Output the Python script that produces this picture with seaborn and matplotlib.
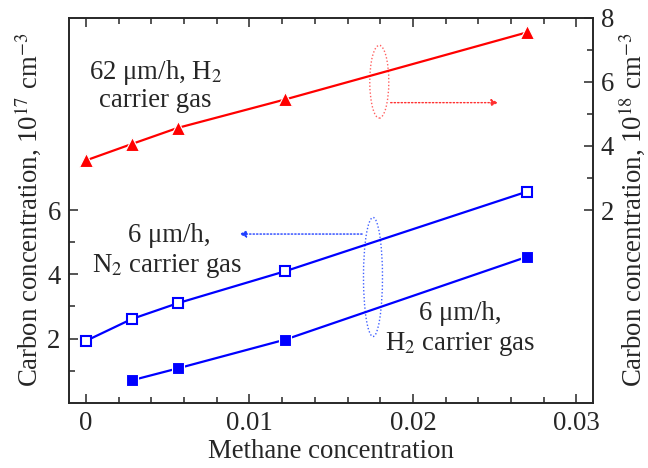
import numpy as np
import pandas as pd
import matplotlib
matplotlib.use("Agg")
import matplotlib.pyplot as plt
import seaborn as sns
from matplotlib.patches import Ellipse
from matplotlib.ticker import MultipleLocator, FixedLocator

# ---- data ----
methane_red = [0.0, 0.0028, 0.0056, 0.0122, 0.027]
carbon_red_62um_H2 = [3.55, 4.06, 4.56, 5.45, 7.54]          # right axis, 1e18 cm^-3

methane_open = [0.0, 0.0028, 0.0056, 0.0122, 0.027]
carbon_6um_N2 = [1.93, 2.61, 3.10, 4.10, 6.58]               # left axis, 1e17 cm^-3

methane_filled = [0.0028, 0.0056, 0.0122, 0.027]
carbon_6um_H2 = [0.70, 1.07, 1.97, 4.55]                     # left axis, 1e17 cm^-3

x_ticks = [0, 0.01, 0.02, 0.03]
x_tick_labels = ["0", "0.01", "0.02", "0.03"]
left_ticks = [2, 4, 6]
right_ticks = [2, 4, 6, 8]

sns.set_theme(style="ticks")
plt.rcParams['font.family'] = ['Liberation Serif', 'DejaVu Serif']
plt.rcParams['mathtext.fontset'] = 'stix'
TXT = '#262626'
FS = 19.3

fig = plt.figure(figsize=(6.48, 4.68), dpi=100)
ax = fig.add_axes([0.1065, 0.1393, 0.8081, 0.8233])
ax2 = ax.twinx()

df_open = pd.DataFrame({"x": methane_open, "y": carbon_6um_N2})
df_fill = pd.DataFrame({"x": methane_filled, "y": carbon_6um_H2})
df_red = pd.DataFrame({"x": methane_red, "y": carbon_red_62um_H2})

sns.lineplot(data=df_open, x="x", y="y", ax=ax, color='#0000ff', lw=1.6,
             marker='s', markersize=7, markerfacecolor='white',
             markeredgecolor='#0000ff', markeredgewidth=1.5)
sns.lineplot(data=df_fill, x="x", y="y", ax=ax, color='#0000ff', lw=1.6,
             marker='s', markersize=8, markerfacecolor='#0000ff',
             markeredgecolor='white', markeredgewidth=0.8)
sns.lineplot(data=df_red, x="x", y="y", ax=ax2, color='#ff0000', lw=1.6,
             marker='^', markersize=10.5, markerfacecolor='#ff0000',
             markeredgecolor='white', markeredgewidth=0.8)

ax.set_xlim(-0.00104, 0.031)
ax.set_ylim(0, 12)
ax2.set_ylim(-4, 8)

ax.set_xticks(x_ticks)
ax.set_xticklabels(x_tick_labels)
ax.xaxis.set_minor_locator(MultipleLocator(0.002))
ax.set_yticks(left_ticks)
ax.yaxis.set_minor_locator(FixedLocator([1, 3, 5]))
ax2.set_yticks(right_ticks)
ax2.yaxis.set_minor_locator(FixedLocator([3, 5, 7]))

for a in (ax, ax2):
    a.tick_params(which='major', direction='in', length=6.5, width=1.1,
                  color=TXT, labelsize=FS, labelcolor=TXT, pad=6)
    a.tick_params(which='minor', direction='in', length=4.3, width=1.1, color=TXT)
    for s in a.spines.values():
        s.set_linewidth(1.2)
        s.set_color(TXT)
ax.tick_params(which='both', top=True, right=False)
ax2.tick_params(which='both', right=True, left=False)

ax.set_xlabel("Methane concentration", fontsize=FS, color=TXT, labelpad=2)
ax.set_ylabel(r"Carbon concentration, 10$^{17}$ cm$^{-3}$", fontsize=FS, color=TXT, labelpad=3)
ax2.set_ylabel(r"Carbon concentration, 10$^{18}$ cm$^{-3}$", fontsize=FS, color=TXT, labelpad=1)

tk = dict(transform=ax.transAxes, fontsize=FS, color=TXT, ha='center', va='baseline')
ax.text(0.1656, 0.8396, "62 μm/h, H$_2$", **tk)
ax.text(0.1656, 0.767, "carrier gas", **tk)
ax.text(0.191, 0.418, "6 μm/h,", **tk)
ax.text(0.188, 0.340, "N$_2$ carrier gas", **tk)
ax.text(0.7476, 0.2149, "6 μm/h,", **tk)
ax.text(0.7476, 0.137, "H$_2$ carrier gas", **tk)

ax.add_patch(Ellipse((0.5925, 0.8334), 0.0363, 0.189, transform=ax.transAxes,
                     fill=False, edgecolor='#ff6060', ls=(0, (1, 1.5)), lw=1.0))
ax.annotate("", xy=(0.825, 0.779), xytext=(0.609, 0.779), xycoords='axes fraction',
            arrowprops=dict(arrowstyle='-|>', color='#ff3030', lw=1.0,
                            ls=(0, (1, 1.5)), mutation_scale=10))
ax.add_patch(Ellipse((0.5805, 0.3265), 0.0363, 0.309, transform=ax.transAxes,
                     fill=False, edgecolor='#4060ff', ls=(0, (1, 1.5)), lw=1.0))
ax.annotate("", xy=(0.320, 0.438), xytext=(0.565, 0.438), xycoords='axes fraction',
            arrowprops=dict(arrowstyle='-|>', color='#2040ff', lw=1.0,
                            ls=(0, (1, 1.5)), mutation_scale=10))

fig.savefig("out.png", dpi=100)
